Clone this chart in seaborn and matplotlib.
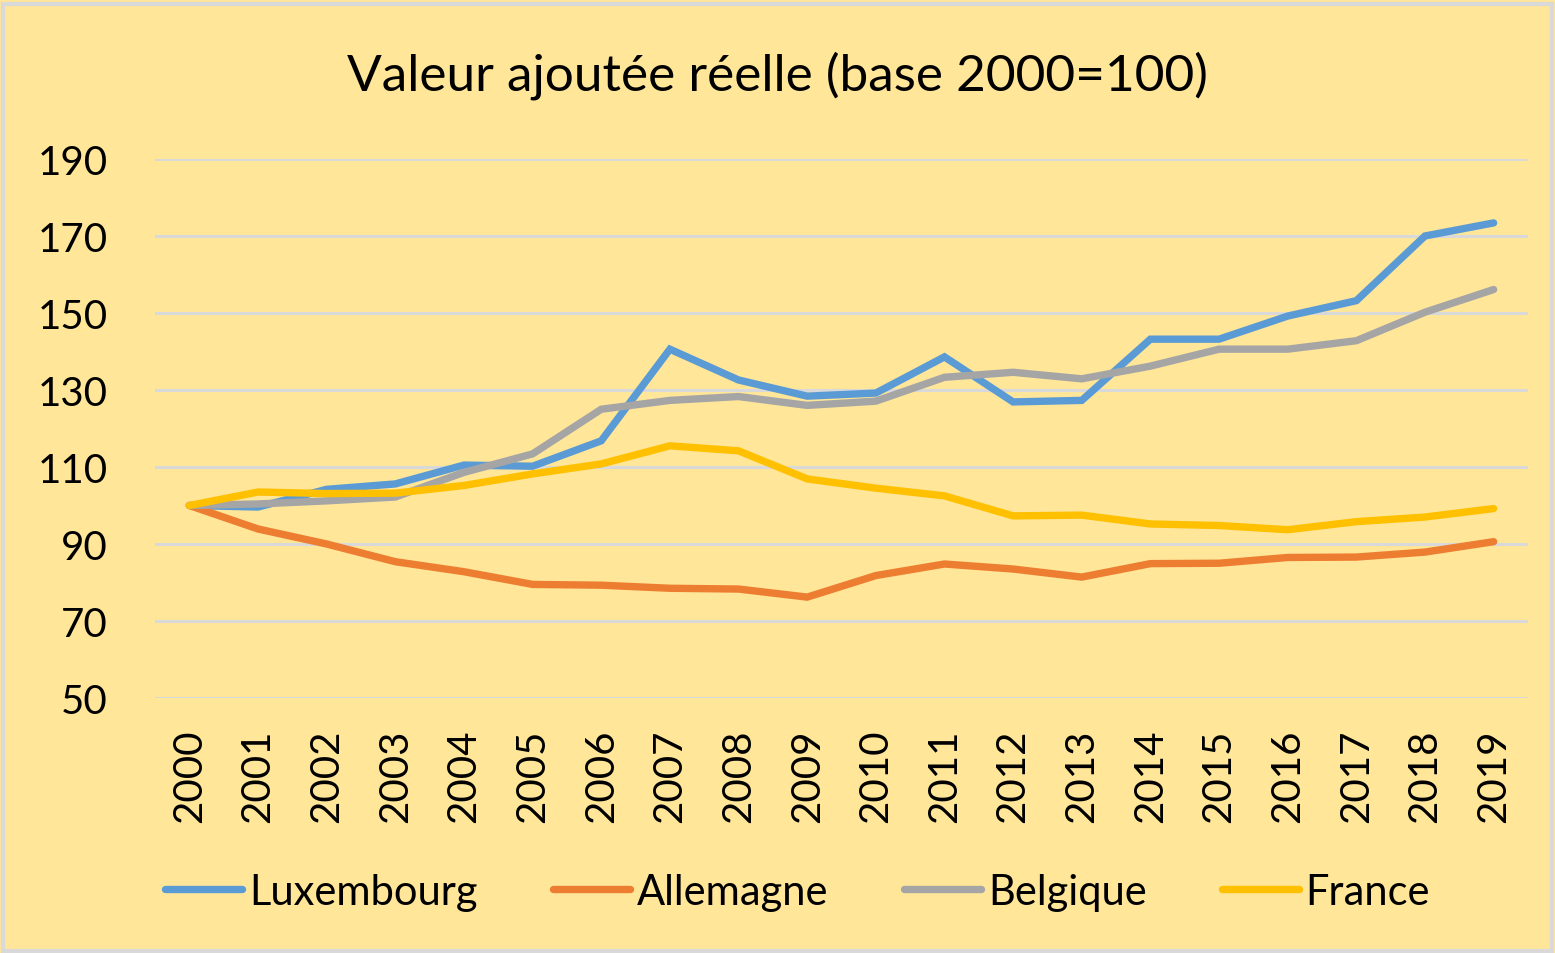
import numpy as np
import pandas as pd
import matplotlib.pyplot as plt
import seaborn as sns
from matplotlib.patches import Rectangle

years = list(range(2000, 2020))
luxembourg = [100, 99.6, 104.2, 105.6, 110.5, 110.2, 116.8, 140.6, 132.6, 128.4,
              129.2, 138.6, 126.9, 127.3, 143.2, 143.2, 149.2, 153.2, 170.0, 173.4]
allemagne = [100, 93.9, 90.0, 85.4, 82.8, 79.5, 79.3, 78.5, 78.3, 76.2,
             81.8, 84.8, 83.5, 81.4, 84.9, 85.0, 86.5, 86.6, 87.9, 90.6]
belgique = [100, 100.4, 101.2, 102.2, 108.6, 113.4, 125.0, 127.3, 128.3, 126.0,
            127.1, 133.3, 134.6, 132.9, 136.2, 140.6, 140.6, 142.8, 150.2, 156.1]
france = [100, 103.5, 103.1, 103.2, 105.2, 108.2, 110.8, 115.5, 114.2, 106.9,
          104.5, 102.5, 97.3, 97.5, 95.2, 94.8, 93.7, 95.8, 97.0, 99.2]

series = ["Luxembourg", "Allemagne", "Belgique", "France"]
colors = ["#5B9BD5", "#ED7D31", "#A5A5A5", "#FFC000"]

df = pd.DataFrame({"Année": years, "Luxembourg": luxembourg, "Allemagne": allemagne,
                   "Belgique": belgique, "France": france})
long_df = df.melt(id_vars="Année", var_name="Pays", value_name="Indice")

sns.set_theme(style="white")
plt.rcParams['font.family'] = ['Lato', 'DejaVu Sans']

bg = "#FFE699"
fig = plt.figure(figsize=(15.55, 9.54), dpi=100, facecolor=bg)
ax = fig.add_axes([0.0997, 0.2673, 0.8829, 0.565])
ax.set_facecolor(bg)

sns.lineplot(data=long_df, x="Année", y="Indice", hue="Pays", hue_order=series,
             palette=colors, linewidth=5.3, ax=ax, legend=False,
             solid_capstyle="round", solid_joinstyle="miter")

ax.set_xlim(1999.5, 2019.5)
ax.set_ylim(50, 190)
ax.set_yticks(np.arange(50, 191, 20))
ax.set_xticks(years)
ax.set_xticklabels([str(y) for y in years], rotation=90)
ax.yaxis.grid(True, color="#D9D9D9", linewidth=2.2)
ax.set_axisbelow(True)
for s in ax.spines.values():
    s.set_visible(False)
ax.tick_params(axis="y", labelsize=29, pad=34, length=0, colors="#000000")
ax.tick_params(axis="x", labelsize=29, pad=22, length=0, colors="#000000")
ax.set_xlabel("")
ax.set_ylabel("")

fig.text(0.5, 0.921, "Valeur ajoutée réelle (base 2000=100)", ha="center", va="center",
         fontsize=37, color="#000000")

handles = [plt.Line2D([], [], color=c, linewidth=5.3, solid_capstyle="round") for c in colors]
fig.legend(handles, series, loc="center", bbox_to_anchor=(0.513, 0.064), ncol=4,
           frameon=False, fontsize=30, handlelength=1.85, handletextpad=0.17,
           columnspacing=1.8, labelcolor="#000000")

fig.patches.append(Rectangle((0.002, 0.002), 0.996, 0.993, transform=fig.transFigure,
                             fill=False, edgecolor="#D9D9D9", linewidth=3))

fig.savefig("out.png", dpi=100, facecolor=bg)
